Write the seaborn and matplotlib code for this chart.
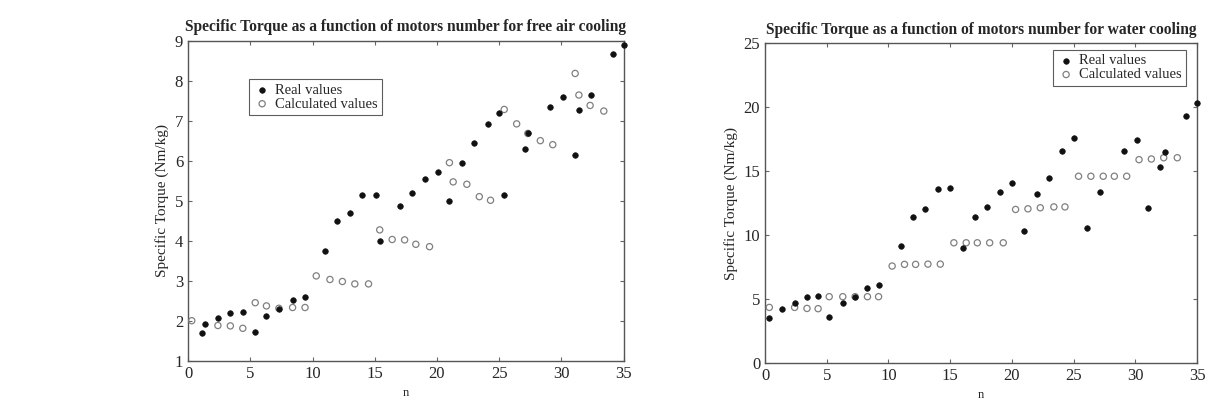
import matplotlib
matplotlib.use('Agg')
import pandas as pd
import seaborn as sns
import matplotlib.pyplot as plt

# free air cooling
air_real_n = [1.1, 1.4, 2.4, 3.4, 4.4, 5.4, 6.3, 7.3, 8.4, 9.4, 11.0, 12.0, 13.0, 14.0, 15.1, 15.4, 17.0,
              18.0, 19.0, 20.1, 21.0, 22.0, 23.0, 24.1, 25.0, 25.4, 27.1, 27.3, 29.1, 30.1, 31.1, 31.4,
              32.4, 34.1, 35.0]
air_real_t = [1.70, 1.92, 2.06, 2.20, 2.23, 1.73, 2.13, 2.29, 2.52, 2.59, 3.75, 4.48, 4.68, 5.13, 5.13, 3.98,
              4.87, 5.18, 5.53, 5.72, 5.00, 5.95, 6.45, 6.91, 7.18, 5.15, 6.30, 6.68, 7.33, 7.59, 6.13,
              7.27, 7.65, 8.67, 8.89]
air_calc_n = [0.3, 2.4, 3.4, 4.4, 5.4, 6.3, 7.3, 8.4, 9.4, 10.3, 11.4, 12.4, 13.4, 14.5, 15.4, 16.4, 17.4,
              18.3, 19.4, 21.0, 21.3, 22.4, 23.4, 24.3, 25.4, 26.4, 27.3, 28.3, 29.3, 31.1, 31.4, 32.3, 33.4]
air_calc_t = [2.00, 1.88, 1.87, 1.81, 2.45, 2.37, 2.31, 2.33, 2.33, 3.12, 3.03, 2.98, 2.92, 2.92, 4.27, 4.03,
              4.02, 3.91, 3.85, 5.95, 5.47, 5.41, 5.10, 5.01, 7.28, 6.92, 6.68, 6.50, 6.40, 8.18, 7.64,
              7.38, 7.24]

# water cooling
water_real_n = [0.35, 1.35, 2.4, 3.4, 4.3, 5.2, 6.3, 7.3, 8.3, 9.2, 11.0, 12.0, 13.0, 14.0, 15.0, 16.0,
                17.0, 18.0, 19.0, 20.0, 21.0, 22.0, 23.0, 24.1, 25.0, 26.1, 27.1, 29.1, 30.1, 31.0, 32.0,
                32.4, 34.1, 35.0]
water_real_t = [3.52, 4.23, 4.65, 5.12, 5.22, 3.55, 4.65, 5.17, 5.82, 6.05, 9.13, 11.38, 12.05, 13.60,
                13.65, 8.95, 11.38, 12.16, 13.36, 14.09, 10.33, 13.20, 14.45, 16.59, 17.58, 10.52, 13.36,
                16.59, 17.40, 12.08, 15.34, 16.50, 19.33, 20.35]
water_calc_n = [0.35, 2.4, 3.4, 4.3, 5.2, 6.3, 7.3, 8.3, 9.2, 10.3, 11.3, 12.2, 13.2, 14.2, 15.3, 16.3,
                17.2, 18.2, 19.3, 20.3, 21.3, 22.3, 23.4, 24.3, 25.4, 26.4, 27.4, 28.3, 29.3, 30.3, 31.3,
                32.3, 33.4]
water_calc_t = [4.33, 4.33, 4.25, 4.23, 5.17, 5.17, 5.17, 5.17, 5.17, 7.57, 7.70, 7.70, 7.72, 7.72, 9.39,
                9.39, 9.39, 9.39, 9.39, 12.00, 12.05, 12.13, 12.20, 12.20, 14.60, 14.60, 14.60, 14.60,
                14.60, 15.90, 15.95, 16.05, 16.05]

sns.set_style('ticks')
plt.rcParams['font.family'] = ['Liberation Serif', 'DejaVu Serif']

fig = plt.figure(figsize=(12.17, 4.13), dpi=100)
ax1 = fig.add_axes([0.1545, 0.1266, 0.358, 0.775])
ax2 = fig.add_axes([0.6286, 0.1218, 0.355, 0.773])


def draw(ax, rn, rt, cn, ct, ylim, yticks, title, legend_loc, legend_anchor):
    real = pd.DataFrame({'n': rn, 't': rt})
    calc = pd.DataFrame({'n': cn, 't': ct})
    sns.scatterplot(x='n', y='t', data=calc, ax=ax, marker='o', s=20,
                    facecolor='none', edgecolor='#808080', linewidth=0.9,
                    label='Calculated values', clip_on=False, zorder=3)
    sns.scatterplot(x='n', y='t', data=real, ax=ax, marker='o', s=16,
                    color='#111111', edgecolor='#111111', linewidth=0.5,
                    label='Real values', clip_on=False, zorder=4)
    ax.set_xlim(0, 35)
    ax.set_ylim(*ylim)
    ax.set_xticks(range(0, 36, 5))
    ax.set_yticks(yticks)
    ax.tick_params(direction='in', top=True, right=True, labelsize=12, length=3, color='#666666')
    for sp in ax.spines.values():
        sp.set_color('#555555')
        sp.set_linewidth(1.0)
    ax.set_xlabel('n', fontsize=9)
    ax.set_ylabel('Specific Torque (Nm/kg)', fontsize=11)
    ax.set_title(title, fontsize=11.2, fontweight='bold', pad=7)
    h, l = ax.get_legend_handles_labels()
    leg = ax.legend(h[::-1], l[::-1], loc=legend_loc, bbox_to_anchor=legend_anchor,
                    fontsize=10.5, frameon=True, fancybox=False, edgecolor='#333333',
                    handletextpad=0.3, borderpad=0.3, labelspacing=0.05, handlelength=1.2,
                    borderaxespad=0)
    leg.get_frame().set_linewidth(0.8)


draw(ax1, air_real_n, air_real_t, air_calc_n, air_calc_t, (1, 9), range(1, 10),
     'Specific Torque as a function of motors number for free air cooling',
     'upper left', (0.14, 0.88))
draw(ax2, water_real_n, water_real_t, water_calc_n, water_calc_t, (0, 25), range(0, 26, 5),
     'Specific Torque as a function of motors number for water cooling',
     'upper right', (0.975, 0.98))

plt.savefig('out.png', dpi=100)
